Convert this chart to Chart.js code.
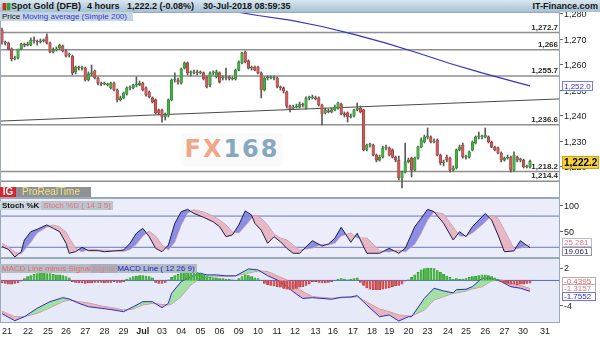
<!DOCTYPE html>
<html>
<head>
<meta charset="utf-8">
<title>Spot Gold (DFB) 4 hours</title>
<script src="https://cdn.jsdelivr.net/npm/chart.js@4.4.1/dist/chart.umd.min.js"></script>
<style>
  body { margin:0; width:600px; height:337px; overflow:hidden; background:#fff; position:relative;
         font-family:"Liberation Sans", Arial, sans-serif; }
  .pane { position:absolute; left:0; width:600px; }
  canvas { display:block; }
  #hdr { position:absolute; left:0; top:0; width:600px; height:12px; z-index:5;
         background:linear-gradient(#d9e7ef,#a5c1d3); font-size:9px; font-weight:bold; color:#151515; }
  #hdr span { position:absolute; top:0; line-height:12px; white-space:nowrap; }
  .tag { position:absolute; z-index:5; font-size:8px; line-height:9px; height:9px; white-space:nowrap; }
  #logo { position:absolute; left:0; top:187px; height:10px; z-index:5; font-size:10px; line-height:10px; }
  #logo .ig { position:absolute; left:0; width:16px; height:10px; background:#d8242c; color:#fff; font-weight:bold; text-align:center; }
  #logo .prt { position:absolute; left:16px; width:75px; height:10px; background:#8e9294; color:#f6e27a; padding-left:6px; box-sizing:border-box; }
  #wm { position:absolute; left:181px; top:133px; width:102px; height:33px; background:#fafafa; z-index:4;
        font-family:"DejaVu Sans", sans-serif; font-size:24px; font-weight:bold; letter-spacing:2px; line-height:33px; text-align:center; }
</style>
</head>
<body>
<div id="hdr">
  <span style="left:2px;color:#c03030">&#9646;</span><span style="left:6px;color:#30a030">&#9646;</span>
  <span style="left:11px">Spot Gold (DFB)</span>
  <span style="left:87px">4 hours</span>
  <span style="left:127px">1,222.2 (-0.08%)</span>
  <span style="left:203px">30-Jul-2018 08:59:35</span>
  <span style="right:2px">IT-Finance.com</span>
</div>
<div class="tag" style="left:0;top:12px;width:133px;background:#c6d4e0">
  <span style="margin-left:2px;color:#111">Price</span> <span style="color:#2b3fd6">Moving average (Simple 200)</span>
</div>
<div id="logo"><span class="ig">IG</span><span class="prt">ProRealTime</span></div>
<div class="tag" style="left:0;top:201px;">
  <span style="background:#c9d5dd;font-weight:bold;color:#111;padding:0 2px">Stoch %K</span><span style="background:#bac5cd;color:#e8707f;padding:0 2px">Stoch %D ( 14 3 5)</span>
</div>
<div class="tag" style="left:0;top:264px;background:#b2bcc4">
  <span style="color:#ea6a6a;padding-left:2px">MACD Line minus Signal</span><span style="color:#d88a8a;padding:0 2px;background:#a6b0b8">Signal</span><span style="color:#2424c8;padding-right:2px">MACD Line ( 12 26 9)</span>
</div>
<div id="wm"><span style="color:#f2a688">FX</span><span style="color:#86a7c0">168</span></div>

<div class="pane" style="top:12px;height:186px"><canvas id="price" width="600" height="186"></canvas></div>
<div class="pane" style="top:198px;height:60px"><canvas id="stoch" width="600" height="60"></canvas></div>
<div class="pane" style="top:258px;height:79px"><canvas id="macd" width="600" height="79"></canvas></div>

<script>
// --- data (one bar = 4 hours, index 0 = first bar on the left) ---
const opens = [1273.7,1269.0,1268.6,1266.3,1262.4,1262.7,1266.3,1268.2,1267.8,1267.8,
  1269.8,1269.4,1269.0,1269.4,1271.0,1268.6,1265.1,1265.9,1266.7,1267.5,
  1265.5,1263.9,1263.5,1257.3,1259.2,1258.8,1258.8,1254.1,1256.5,1257.7,
  1254.9,1252.9,1252.5,1252.2,1251.0,1252.9,1250.2,1246.3,1247.1,1248.6,
  1251.0,1251.0,1252.2,1252.2,1252.9,1251.0,1249.4,1247.1,1246.3,1242.4,
  1242.4,1239.6,1240.4,1246.3,1254.1,1254.1,1252.9,1258.8,1260.8,1256.9,
  1256.9,1257.3,1256.9,1256.9,1255.3,1252.2,1256.9,1255.3,1256.9,1254.9,
  1254.9,1255.3,1254.5,1254.5,1258.0,1260.8,1265.1,1261.6,1258.8,1259.2,
  1259.2,1256.9,1250.2,1254.9,1254.9,1254.9,1254.9,1251.4,1251.0,1249.4,
  1243.9,1243.1,1243.5,1243.5,1244.7,1243.1,1247.1,1247.1,1247.1,1247.1,
  1244.3,1241.2,1242.0,1241.6,1242.4,1243.1,1244.7,1240.8,1241.2,1239.6,
  1240.0,1242.4,1243.1,1242.4,1226.7,1228.6,1228.6,1224.7,1222.7,1223.9,
  1227.5,1227.5,1226.7,1223.9,1222.7,1215.7,1218.0,1222.0,1223.5,1218.8,
  1223.5,1227.8,1229.8,1231.8,1231.8,1229.8,1230.6,1224.7,1221.6,1223.9,
  1223.5,1218.8,1219.6,1226.7,1228.6,1223.9,1223.9,1226.7,1229.4,1231.8,
  1231.8,1231.8,1231.8,1229.8,1227.8,1227.5,1225.5,1222.7,1223.5,1223.9,
  1218.8,1223.9,1222.7,1222.7,1220.0,1220.0];
const closes = [1269.0,1268.6,1266.3,1262.4,1262.7,1266.3,1268.2,1267.8,1268.2,1269.8,
  1269.4,1269.0,1269.4,1269.8,1268.6,1265.1,1265.9,1266.3,1267.8,1265.5,
  1263.5,1263.9,1256.9,1259.2,1258.8,1258.8,1254.1,1256.5,1256.5,1254.9,
  1252.9,1252.5,1252.9,1252.5,1252.9,1250.2,1246.3,1247.1,1249.0,1251.0,
  1251.0,1252.2,1252.2,1252.9,1250.2,1248.2,1247.5,1245.5,1241.2,1241.2,
  1239.6,1240.4,1246.3,1254.1,1254.1,1253.3,1258.4,1260.8,1256.9,1256.9,
  1257.3,1256.9,1257.3,1254.5,1251.4,1256.9,1256.9,1257.3,1253.3,1254.9,
  1255.3,1254.5,1254.9,1258.0,1261.2,1264.7,1261.2,1258.8,1258.8,1258.0,
  1256.9,1250.2,1254.9,1254.9,1255.3,1254.9,1251.4,1251.0,1249.8,1243.9,
  1242.7,1243.5,1243.9,1244.7,1244.3,1247.1,1247.1,1247.5,1246.7,1244.3,
  1240.8,1242.4,1241.6,1242.4,1243.5,1245.1,1240.8,1240.4,1239.6,1240.0,
  1242.4,1243.1,1241.6,1226.7,1228.6,1228.6,1224.7,1222.7,1223.9,1227.5,
  1227.5,1224.7,1223.9,1222.7,1215.7,1218.0,1222.0,1222.7,1218.8,1223.5,
  1227.8,1230.6,1231.8,1231.8,1229.8,1230.2,1224.7,1221.6,1221.6,1222.7,
  1218.8,1219.6,1226.7,1227.8,1223.9,1223.9,1225.9,1229.8,1231.8,1231.8,
  1231.8,1232.5,1229.8,1227.8,1226.7,1225.5,1222.7,1223.5,1223.9,1218.8,
  1224.7,1222.7,1222.7,1220.0,1220.0,1222.2];
const highs = [1274.5,1269.4,1269.0,1266.7,1263.5,1263.1,1268.6,1268.6,1269.0,1270.6,
  1271.0,1269.8,1270.2,1270.2,1272.2,1269.0,1266.7,1267.1,1268.2,1267.8,
  1265.9,1264.7,1263.9,1259.6,1259.6,1259.6,1259.2,1257.3,1260.0,1258.0,
  1255.3,1253.3,1253.3,1252.9,1253.3,1253.3,1250.6,1247.8,1249.4,1251.4,
  1251.8,1252.5,1255.3,1253.7,1253.3,1251.4,1249.8,1247.5,1246.7,1242.7,
  1242.7,1241.2,1246.7,1254.5,1256.9,1254.9,1258.8,1261.2,1261.2,1257.7,
  1258.0,1258.0,1257.7,1257.3,1255.7,1257.3,1257.7,1258.0,1257.3,1255.7,
  1258.8,1255.7,1255.3,1258.4,1261.6,1265.1,1265.5,1262.0,1259.6,1259.6,
  1259.6,1257.3,1255.3,1255.7,1255.7,1255.7,1255.3,1251.8,1251.4,1249.8,
  1244.3,1244.3,1244.7,1245.5,1245.1,1247.5,1247.8,1248.2,1247.8,1247.5,
  1244.7,1243.1,1242.7,1243.1,1244.3,1245.5,1245.1,1241.6,1241.6,1240.8,
  1242.7,1245.1,1243.9,1242.7,1229.0,1229.4,1229.0,1225.1,1224.7,1228.2,
  1228.6,1227.8,1227.1,1224.3,1224.3,1218.4,1229.4,1223.5,1223.9,1223.9,
  1228.2,1231.4,1232.5,1235.3,1232.2,1231.0,1231.0,1225.1,1222.7,1224.7,
  1223.9,1220.4,1227.1,1228.6,1229.4,1224.7,1226.3,1230.2,1232.2,1233.7,
  1232.5,1235.3,1232.2,1230.2,1228.2,1227.8,1225.9,1223.9,1224.7,1224.3,
  1225.9,1224.3,1223.5,1223.1,1220.8,1222.7];
const lows = [1268.2,1267.8,1265.9,1261.6,1262.0,1262.4,1265.9,1267.1,1267.5,1267.5,
  1268.6,1267.8,1268.6,1269.0,1268.2,1264.7,1264.7,1265.5,1265.9,1265.1,
  1263.1,1263.1,1256.1,1256.5,1258.0,1258.0,1253.7,1253.7,1255.7,1254.5,
  1252.2,1251.8,1252.2,1251.8,1250.6,1249.8,1245.5,1245.9,1246.7,1248.2,
  1250.2,1250.6,1251.4,1251.8,1249.8,1247.8,1247.1,1245.1,1240.8,1240.4,
  1237.6,1238.4,1239.6,1245.9,1253.3,1252.5,1252.5,1258.4,1256.1,1255.7,
  1256.5,1256.1,1256.5,1254.1,1251.0,1251.4,1256.1,1254.9,1252.9,1254.1,
  1254.1,1254.1,1254.1,1254.1,1257.7,1260.4,1260.8,1258.4,1258.0,1257.7,
  1256.5,1247.1,1249.8,1254.1,1254.5,1254.1,1251.0,1250.2,1249.0,1243.1,
  1241.6,1242.7,1243.1,1243.1,1243.5,1242.7,1246.3,1246.7,1246.3,1243.9,
  1236.5,1240.8,1241.2,1241.2,1242.0,1242.7,1240.4,1239.6,1237.6,1239.2,
  1239.6,1242.0,1241.2,1226.3,1226.3,1227.8,1224.3,1222.0,1222.3,1223.5,
  1226.7,1224.3,1223.5,1222.0,1214.9,1211.8,1217.6,1221.6,1216.1,1218.4,
  1223.1,1227.5,1229.4,1231.0,1229.4,1229.4,1224.3,1220.8,1220.4,1222.0,
  1218.0,1218.4,1219.2,1226.3,1223.5,1223.1,1223.5,1226.3,1229.0,1231.0,
  1231.0,1231.4,1229.4,1227.5,1226.3,1225.1,1222.0,1222.3,1223.1,1218.0,
  1218.4,1222.0,1222.0,1219.6,1219.6,1219.6];

// moving average (simple 200), sampled along the line
const maIdx  = [70, 80, 90, 100, 110, 120, 130, 140, 150, 160, 165];
const maVals = [1281.5,1279.4,1277.6,1275.1,1272.0,1268.6,1264.7,1260.6,1256.9,1253.5,1251.8];
// hand drawn trend line (ends at the panel edges)
const trendIdx  = [-0.625, 174.375];
const trendVals = [1238.0, 1246.7];
// horizontal levels
const levels = [1272.7, 1266, 1255.7, 1236.6, 1218.2, 1214.4];
const priceTicks = [1280, 1270, 1260, 1250, 1240, 1230, 1220];
const lastPrice = 1222.2, lastMA = 1252.0;

// stochastic %K / %D
const stochIdx = [0,2,4,6,7,9,11,14,16,18, 20,21,23,25,27,30,32,35,38,40,
  42,44,46,48,50,52,54,56,58,60, 63,66,68,70,72,74,76,78,79,81,
  83,85,87,89,91,93,97,100,102,104, 106,109,111,114,118,121,124,126,129,131,
  133,135,138,141,143,145,147,151,153,155, 157,160,162,165];
const stochK = [21.2,16,1.3,11.5,34,50,54.6,63,56.5,50,
  27.7,8.5,11.5,20,13.5,13.5,11.5,13,14.8,27.7,
  47,56.5,40.4,18,11.5,24.4,66,88.5,93,85,
  77.7,69,59.6,40.4,43.7,63,90,82,66,53,
  27.7,40.4,30.8,18,8.5,8.5,32.7,22.5,26.3,37.3,
  58.5,29.6,47,8.5,8.5,18,8.5,18,59.6,75.8,
  93,88.5,66,34,50,40.4,59.6,85,72.5,43.7,
  11.5,13,32.7,19.061];
const stochD = [28,20.6,11,7,15,30,47.5,59,63,59,
  49.4,38,18.7,11,16.7,14.8,14.8,13,12,15.8,
  26,41.7,51,41.7,24.4,14.8,30,63,86,92,
  88,80,72.5,63,49.4,47.5,61,76,82,76,
  63,45.6,38,34,24.4,14.8,18.7,26,24.4,28,
  41.7,47.5,38,38,13,11,14.8,11,26,47.5,
  72.5,88,84,59,41.7,41.7,47.5,68.6,82,76,
  53,16.7,18.7,25.281];
const stochBands = [20, 80];
const stochTicks = [100, 50];

// MACD (12 26 9)
const macdIdx = [0,4,7,11,15,19,21,24,27,31, 35,38,41,44,47,50,52,53,56,59,
  62,64,67,70,73,77,80,83,86,89, 92,94,97,103,106,109,111,114,118,121,
  124,127,128,132,135,138,141,142,145,147, 150,153,156,159,162,165];
const macdLine = [-5.35,-6.48,-5.84,-4.48,-3.42,-2.77,-2.98,-3.68,-4.23,-4.48,
  -4.76,-5.03,-4.23,-3.42,-3.42,-4.39,-3.68,-2.06,-0.19,0.61,
  1.16,0.89,0.89,0.73,0.73,1.85,1.69,0.77,0.08,-1.0,
  -2.2,-2.9,-2.77,-3.03,-2.71,-2.65,-2.45,-3.95,-5.84,-5.56,
  -6.53,-5.84,-5.84,-2.87,-1.26,-1.69,-2.0,-1.48,-1.42,-1.0,
  0.35,0.35,-0.19,-1.0,-1.26,-1.7552];
const signalLine = [-4.95,-5.84,-5.84,-5.29,-4.39,-3.42,-3.15,-3.42,-3.63,-4.11,
  -4.44,-4.76,-4.60,-3.95,-3.68,-3.87,-3.95,-3.79,-2.61,-0.73,
  0.35,0.48,0.61,0.73,0.77,1.16,1.53,1.42,0.73,0.08,
  -1.0,-1.81,-2.61,-2.87,-2.77,-2.74,-2.61,-3.47,-4.60,-5.03,
  -5.56,-5.73,-5.73,-4.76,-3.15,-2.61,-2.06,-2.02,-1.69,-1.37,
  -1.0,-0.08,0.08,-0.45,-0.81,-1.3157];
const macdHist = [-0.4,-0.5,-0.6,-0.6,-0.5,-0.4, -0.1,
  0.3,0.6,0.8,1.0,1.1,1.2,1.2,1.1,1.1,1.0,0.9,0.9,0.8,0.6,0.4,
  -0.2,-0.3,-0.4,-0.4,-0.5,-0.4,-0.4,-0.3,-0.3,-0.3,-0.4,-0.3,-0.3,-0.2,-0.3,-0.3,-0.2,
  0.2,0.4,0.6,0.7,0.8,0.8,0.7,0.6,0.4,
  -0.3,-0.5,-0.5,-0.3, 0.1,
  0.5,0.8,1.0,1.2,1.3,1.4,1.4,1.4,1.3,1.1,0.9,
  0.6,0.5,0.4,0.4,0.3,0.3,0.2,0.2,0.1, 0.0,
  0.3,0.6,0.9,0.8,0.6,0.4,0.3, 0.0,
  -0.5,-0.7,-0.8,-0.9,-1.0,-1.1,-1.3,-1.4,-1.5,-1.4,-1.3,
  -1.1,-1.0,-0.8,-0.6, -0.2,-0.2,-0.3, -0.4,-0.4,-0.3,-0.2, 0.0,
  0.2,0.3,0.2,0.1,0.2,0.3,0.4,
  -0.3,-0.8,-1.2,-1.4,-1.5,-1.5,-1.5,-1.4,-1.3,-1.2,-1.0,-0.9,-0.8,-0.6,
  -0.1,0.1,
  0.5,0.9,1.3,1.7,1.9,2.0,2.0,1.9,1.6,1.3,1.0,0.7,0.5,
  0.2,0.3,0.2,0.2,0.3,
  0.5,0.6,0.7,0.8,0.9,0.9,0.8,0.6,0.4,0.2,
  -0.2,-0.4,-0.5,-0.6,-0.6,-0.7,-0.6,-0.6,-0.5,-0.4395];
const macdTicks = [2, -4];

// x axis: trading days
const dayLabels = ['21','22','25','26','27','28','29','Jul','03','04','05','06','09','10','11','12',
  '13','16','17','18','19','20','23','24','25','26','27','30','31'];
const dayTicks = [1.6,8.1,14.4,20,26,32,38,44,50,56,62,68,74,80,86,91.6,
  98,103.4,109.7,115.6,121,127,133,139.4,145,151,157,162.8,169.7];

// --- helpers ---
const fmtPrice = v => v.toLocaleString('en-US', { maximumFractionDigits: 1 });
const pts = (xs, ys) => xs.map((x, i) => ({ x, y: ys[i] }));
const flat = v => [{ x: -0.625, y: v }, { x: 174.375, y: v }];

// panel background + frame
const panelBg = {
  id: 'panelBg',
  beforeDraw(chart, args, opts) {
    const { ctx, chartArea: a } = chart;
    ctx.save();
    ctx.fillStyle = opts.color || '#fff';
    ctx.fillRect(a.left, a.top, a.right - a.left, a.bottom - a.top);
    ctx.restore();
  },
  afterDraw(chart) {
    const { ctx, chartArea: a } = chart;
    ctx.save();
    ctx.strokeStyle = '#9aa9b8';
    ctx.lineWidth = 1;
    ctx.strokeRect(a.left + 0.5, a.top + 0.5, a.right - a.left - 1, a.bottom - a.top - 1);
    ctx.restore();
  }
};

// level captions and value boxes at the right edge
const sideLabels = {
  id: 'sideLabels',
  afterDraw(chart, args, opts) {
    const { ctx, chartArea: a, scales } = chart;
    const y = scales.y;
    ctx.save();
    ctx.font = 'bold 8px "Liberation Sans", Arial';
    ctx.fillStyle = '#2a2a2a';
    ctx.textAlign = 'right';
    ctx.textBaseline = 'bottom';
    (opts.levels || []).forEach(v => ctx.fillText(fmtPrice(v), a.right - 2, y.getPixelForValue(v) - 1));

    const boxes = (opts.boxes || []).map(b => Object.assign({}, b, { c: y.getPixelForValue(b.value) + 1 }));
    const sorted = boxes.slice().sort((p, q) => p.c - q.c);
    const gap = opts.gap || 8;
    let i = 0;
    while (i < sorted.length) {
      let j = i;
      while (j + 1 < sorted.length && sorted[j + 1].c - sorted[j].c < gap) j++;
      if (j > i) {
        const grp = sorted.slice(i, j + 1);
        const m = grp.reduce((s, b) => s + b.c, 0) / grp.length;
        grp.forEach((b, k) => { b.c = m + (k - (grp.length - 1) / 2) * gap; });
      }
      i = j + 1;
    }
    boxes.forEach(b => {
      const x = a.right + 2, h = b.h || 9, w = b.w || 32;
      ctx.fillStyle = b.bg;
      ctx.fillRect(x, b.c - h / 2, w, h);
      ctx.strokeStyle = b.border;
      ctx.lineWidth = 1;
      ctx.strokeRect(x + 0.5, Math.round(b.c - h / 2) + 0.5, w - 1, h - 1);
      ctx.fillStyle = b.color;
      ctx.font = b.font || '8px "Liberation Sans", Arial';
      ctx.textAlign = 'left';
      ctx.textBaseline = 'middle';
      ctx.fillText(b.text, x + 2, b.c + 0.5);
    });
    ctx.restore();
  }
};

// labels may stick out of the plot; keep the plot at the full panel size
const noPad = s => { s.paddingTop = 0; s.paddingBottom = 0; s.paddingLeft = 0; s.paddingRight = 0; };

function xAxis(show) {
  const ax = { type: 'linear', min: -0.625, max: 174.375, offset: false, display: show,
               grid: { display: false, drawTicks: false, tickLength: 0 }, border: { display: false } };
  if (show) {
    ax.afterFit = s => { s.height = 14; noPad(s); };
    ax.afterBuildTicks = s => { s.ticks = dayTicks.map(v => ({ value: v })); };
    ax.ticks = { autoSkip: false, maxRotation: 0, padding: 3, color: '#1e1e1e',
                 font: c => ({ size: 9, family: '"Liberation Sans", Arial', weight: dayLabels[c.index] === 'Jul' ? 'bold' : 'normal' }),
                 callback: (v, i) => dayLabels[i] };
  }
  return ax;
}
function yAxis(min, max, tickVals, fmt) {
  return {
    position: 'right', min, max,
    afterFit: s => { s.width = 40; noPad(s); },
    afterBuildTicks: s => { s.ticks = tickVals.map(v => ({ value: v })); },
    grid: { drawOnChartArea: false, drawTicks: true, tickLength: 3, color: '#666' },
    border: { display: false },
    ticks: { padding: 1, labelOffset: 1, color: '#1a1a1a', font: { size: 9, family: '"Liberation Sans", Arial' }, callback: fmt }
  };
}
const base = { responsive: false, animation: false, events: [],
               layout: { padding: 0 } };

// --- price panel ---
const up = i => closes[i] >= opens[i];
new Chart(document.getElementById('price'), {
  type: 'bar',
  data: {
    datasets: [
      { type: 'bar', order: 0, grouped: false, barThickness: 2.6, minBarLength: 1,
        data: opens.map((o, i) => ({ x: i, y: [o, closes[i]] })),
        backgroundColor: c => up(c.dataIndex) ? '#46b046' : '#cf5a5a',
        borderColor: c => up(c.dataIndex) ? '#2d7d2d' : '#8e3636', borderWidth: 0.6, borderSkipped: false },
      { type: 'bar', order: 1, grouped: false, barThickness: 1,
        data: lows.map((l, i) => ({ x: i, y: [l, highs[i]] })), backgroundColor: '#5a5a5a' },
      { type: 'line', order: 2, data: pts(maIdx, maVals), borderColor: '#3434c4', borderWidth: 1.2, pointRadius: 0 },
      { type: 'line', order: 3, data: pts(trendIdx, trendVals), borderColor: '#4a4a4a', borderWidth: 1, pointRadius: 0 },
      ...levels.map(v => ({ type: 'line', order: 4, data: flat(v), borderColor: '#8f8f8f', borderWidth: 1.5, pointRadius: 0 }))
    ]
  },
  options: Object.assign({}, base, {
    scales: { x: xAxis(false), y: yAxis(1207.84, 1280.78, priceTicks, v => fmtPrice(v)) },
    plugins: {
      legend: { display: false }, tooltip: { enabled: false },
      panelBg: { color: '#ffffff' },
      sideLabels: {
        levels, gap: 8,
        boxes: [
          { value: lastMA, text: fmtPrice(lastMA) + '.0', bg: '#ffffff', border: '#7080e0', color: '#3333cc', w: 31, h: 10 },
          { value: lastPrice, text: fmtPrice(lastPrice), bg: '#f6d23c', border: '#caa21a', color: '#000', w: 37, h: 13,
            font: 'bold 10px "Liberation Sans", Arial' }
        ]
      }
    }
  }),
  plugins: [panelBg, sideLabels]
});

// --- stochastic panel ---
new Chart(document.getElementById('stoch'), {
  type: 'line',
  data: {
    datasets: [
      { data: pts(stochIdx, stochK), borderColor: '#1d1d4e', borderWidth: 1, pointRadius: 0,
        fill: { target: 1, above: 'rgba(122,124,222,0.85)', below: 'rgba(232,176,190,0.9)' } },
      { data: pts(stochIdx, stochD), borderColor: '#dba3b3', borderWidth: 1, pointRadius: 0 },
      ...stochBands.map(v => ({ data: flat(v), borderColor: '#6b74c6', borderWidth: 1, pointRadius: 0 }))
    ]
  },
  options: Object.assign({}, base, {
    scales: { x: xAxis(false), y: yAxis(-0.6, 114.8, stochTicks, v => String(v)) },
    plugins: {
      legend: { display: false }, tooltip: { enabled: false },
      panelBg: { color: '#ebeefa' },
      sideLabels: {
        gap: 9,
        boxes: [
          { value: stochD[stochD.length - 1], text: String(stochD[stochD.length - 1]), bg: '#fff', border: '#b9bccb', color: '#e0707e', w: 30, h: 9 },
          { value: stochK[stochK.length - 1], text: String(stochK[stochK.length - 1]), bg: '#fff', border: '#8f93b8', color: '#1d1d4e', w: 30, h: 9 }
        ]
      }
    }
  }),
  plugins: [panelBg, sideLabels]
});

// --- MACD panel ---
new Chart(document.getElementById('macd'), {
  type: 'bar',
  data: {
    datasets: [
      { type: 'bar', order: 0, grouped: false, barThickness: 2.2,
        data: macdHist.map((v, i) => ({ x: i, y: v })),
        backgroundColor: c => c.raw && c.raw.y >= 0 ? '#47bd3f' : '#de5454',
        borderColor: c => c.raw && c.raw.y >= 0 ? '#2d8a28' : '#a33636', borderWidth: 0.5 },
      { type: 'line', order: 1, data: pts(macdIdx, macdLine), borderColor: '#2b2bc8', borderWidth: 1, pointRadius: 0,
        fill: { target: 2, above: 'rgba(150,222,150,0.85)', below: 'rgba(232,170,180,0.85)' } },
      { type: 'line', order: 2, data: pts(macdIdx, signalLine), borderColor: '#cf8d8d', borderWidth: 1, pointRadius: 0 },
      { type: 'line', order: 3, data: flat(0), borderColor: '#5563c8', borderWidth: 1, pointRadius: 0 }
    ]
  },
  options: Object.assign({}, base, {
    scales: { x: xAxis(true), y: yAxis(-6.85, 3.61, macdTicks, v => String(v)) },
    plugins: {
      legend: { display: false }, tooltip: { enabled: false },
      panelBg: { color: '#e6eaf8' },
      sideLabels: {
        gap: 7.5,
        boxes: [
          { value: macdHist[macdHist.length - 1], text: String(macdHist[macdHist.length - 1]), bg: '#fff', border: '#c0a8b0', color: '#e06464', w: 34, h: 9 },
          { value: signalLine[signalLine.length - 1], text: String(signalLine[signalLine.length - 1]), bg: '#fff', border: '#c0a8b0', color: '#d07a7a', w: 34, h: 9 },
          { value: macdLine[macdLine.length - 1], text: String(macdLine[macdLine.length - 1]), bg: '#fff', border: '#6a78d8', color: '#2b2bc8', w: 34, h: 9 }
        ]
      }
    }
  }),
  plugins: [panelBg, sideLabels]
});
</script>
</body>
</html>
